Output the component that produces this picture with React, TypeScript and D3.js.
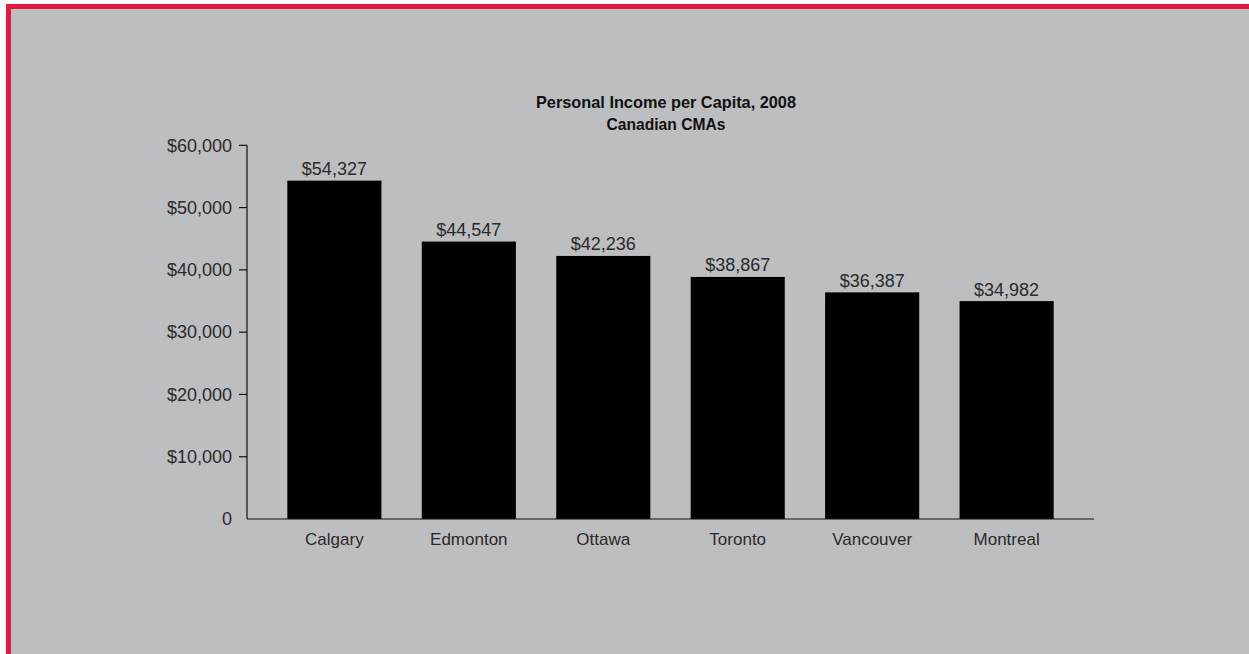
import React from "react";
import * as d3 from "d3";

const categories = ["Calgary", "Edmonton", "Ottawa", "Toronto", "Vancouver", "Montreal"];
const values = [54327, 44547, 42236, 38867, 36387, 34982];
const yTicks = [0, 10000, 20000, 30000, 40000, 50000, 60000];
const titleLines = ["Personal Income per Capita, 2008", "Canadian CMAs"];

const W = 1249;
const H = 654;

export default function App() {
  const x = d3.scaleBand<string>().domain(categories).range([247, 1094]).paddingInner(0.3).paddingOuter(0.3);
  const y = d3.scaleLinear().domain([0, 60000]).range([519, 145.3]);
  const fmt = (v: number) => (v === 0 ? "0" : "$" + d3.format(",")(v));
  const font = "'Liberation Sans', Arial, sans-serif";

  return (
    <svg width={W} height={H} style={{ position: "absolute", left: 0, top: 0 }} fontFamily={font}>
      <rect x={0} y={0} width={W} height={H} fill="#fafafa" />
      <rect x={6} y={4} width={W - 6} height={H - 4} fill="#e4193f" />
      <rect x={11} y={9} width={W - 11} height={H - 9} fill="#bdbec0" />

      <text x={666} y={108} textAnchor="middle" fontWeight="bold" fontSize={17} fill="#111" textLength={260} lengthAdjust="spacingAndGlyphs">
        {titleLines[0]}
      </text>
      <text x={666} y={130} textAnchor="middle" fontWeight="bold" fontSize={17} fill="#111" textLength={119} lengthAdjust="spacingAndGlyphs">
        {titleLines[1]}
      </text>

      {categories.map((c, i) => (
        <g key={c}>
          <rect x={x(c)} y={y(values[i])} width={x.bandwidth()} height={y(0) - y(values[i])} fill="#000" />
          <text x={(x(c) as number) + x.bandwidth() / 2} y={y(values[i]) - 5.5} textAnchor="middle" fontSize={18} fill="#2a2a2a">
            {fmt(values[i])}
          </text>
          <text x={(x(c) as number) + x.bandwidth() / 2} y={545} textAnchor="middle" fontSize={17} fill="#2a2a2a">
            {c}
          </text>
        </g>
      ))}

      <line x1={247} x2={247} y1={y(60000)} y2={y(0)} stroke="#111" strokeWidth={1.2} />
      <line x1={247} x2={1094} y1={y(0)} y2={y(0)} stroke="#111" strokeWidth={1.2} />
      {yTicks.map((t) => (
        <g key={t}>
          {t !== 0 && <line x1={239} x2={247} y1={y(t)} y2={y(t)} stroke="#111" strokeWidth={1.2} />}
          <text x={232} y={y(t)} dy="0.35em" textAnchor="end" fontSize={18} fill="#2a2a2a">
            {fmt(t)}
          </text>
        </g>
      ))}
    </svg>
  );
}
